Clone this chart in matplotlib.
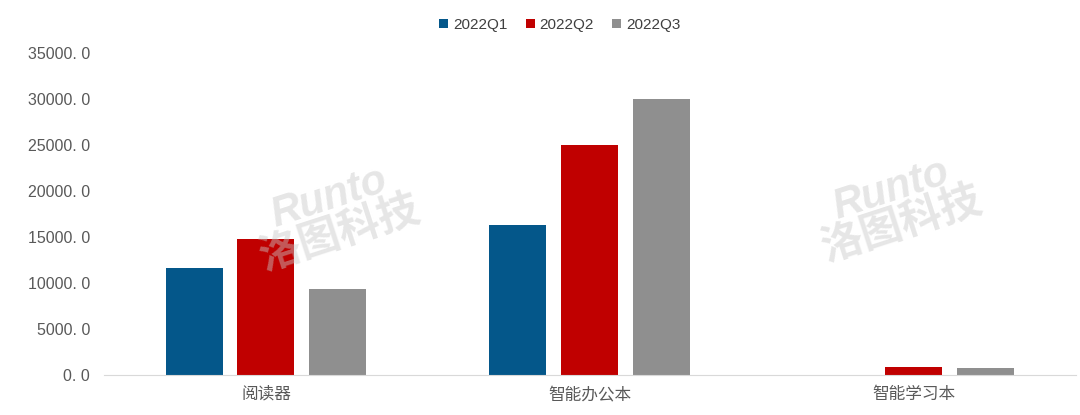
import numpy as np
import matplotlib
matplotlib.use('Agg')
import matplotlib.pyplot as plt
from matplotlib.ticker import FuncFormatter

plt.rcParams['font.family'] = ['Liberation Sans', 'Noto Sans CJK SC', 'DejaVu Sans']

categories = ['阅读器', '智能办公本', '智能学习本']
series = ['2022Q1', '2022Q2', '2022Q3']
q1 = [11600, 16300, 0]
q2 = [14800, 25000, 870]
q3 = [9350, 30000, 730]
colors = ['#04578A', '#C00000', '#8F8F8F']

fig = plt.figure(figsize=(10.8, 4.15), dpi=100)
ax = fig.add_axes([0.0963, 0.0964, 0.8997, 0.7759])

x = np.arange(len(categories))
w = 0.176
step = 0.222
for i, (vals, name) in enumerate(zip([q1, q2, q3], series)):
    ax.bar(x + (i - 1) * step, vals, width=w, color=colors[i], label=name)

ax.set_xlim(-0.5, len(categories) - 0.5)
ax.set_ylim(0, 35000)
ax.set_yticks(np.arange(0, 35001, 5000))
ax.yaxis.set_major_formatter(FuncFormatter(lambda v, p: ('%.1f' % v).replace('.', '. ')))
ax.set_xticks(x)
ax.set_xticklabels(categories)
ax.tick_params(axis='both', length=0, labelsize=11.5, colors='#595959', pad=10)
ax.tick_params(axis='x', labelsize=12, pad=8)
for s in ['top', 'right', 'left']:
    ax.spines[s].set_visible(False)
ax.spines['bottom'].set_color('#D9D9D9')

# 水印
for wx, wy in [(0.31, 0.48), (0.83, 0.50)]:
    fig.text(wx, wy, 'Runto\n洛图科技', fontsize=30, color='#C8C8C8', alpha=0.45,
             rotation=18, ha='center', va='center', fontweight='bold', style='italic',
             linespacing=0.9)

ax.legend(loc='center', bbox_to_anchor=(0.469, 1.087), ncol=3, frameon=False,
          fontsize=11, handlelength=0.6, handleheight=0.6, handletextpad=0.3,
          columnspacing=1.2, labelcolor='#404040')

fig.savefig('out.png', dpi=100)
